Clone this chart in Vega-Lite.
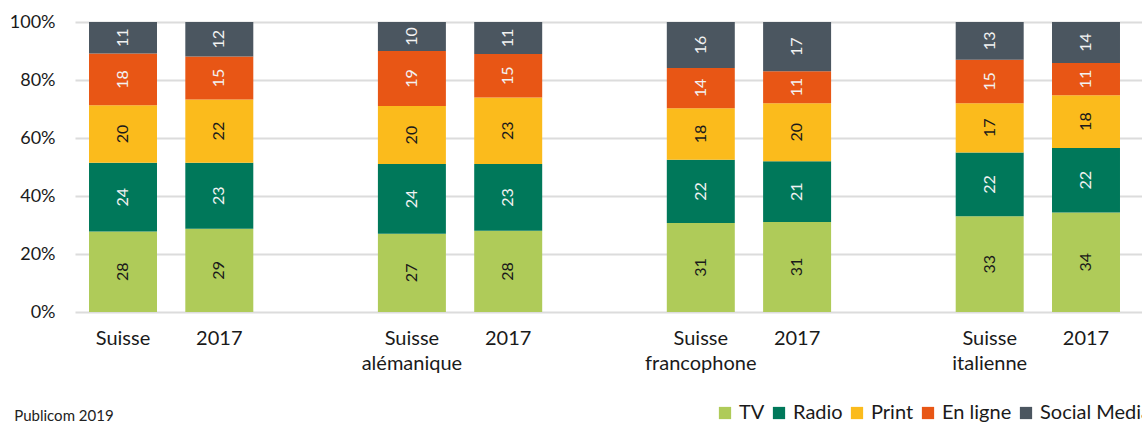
{
  "$schema": "https://vega.github.io/schema/vega-lite/v6.json",
  "width": 1067,
  "height": 290,
  "autosize": {"type": "none"},
  "padding": {"left": 75, "top": 22, "right": 0, "bottom": 110},
  "background": "white",
  "config": {
    "font": "Lato",
    "view": {"stroke": null},
    "axis": {"labelFont": "Lato", "labelColor": "#1a1a1a"}
  },
  "title": {
    "text": "Publicom 2019",
    "orient": "bottom",
    "anchor": "start",
    "frame": "bounds",
    "fontSize": 15,
    "fontWeight": "normal",
    "color": "#222222",
    "font": "Lato",
    "offset": -14,
    "dx": 5
  },
  "data": {
    "values": [
      {"region": "Suisse", "year": "2019", "media": "TV", "share": 28},
      {"region": "Suisse", "year": "2019", "media": "Radio", "share": 24},
      {"region": "Suisse", "year": "2019", "media": "Print", "share": 20},
      {"region": "Suisse", "year": "2019", "media": "En ligne", "share": 18},
      {"region": "Suisse", "year": "2019", "media": "Social Media", "share": 11},
      {"region": "Suisse", "year": "2017", "media": "TV", "share": 29},
      {"region": "Suisse", "year": "2017", "media": "Radio", "share": 23},
      {"region": "Suisse", "year": "2017", "media": "Print", "share": 22},
      {"region": "Suisse", "year": "2017", "media": "En ligne", "share": 15},
      {"region": "Suisse", "year": "2017", "media": "Social Media", "share": 12},
      {"region": "Suisse alémanique", "year": "2019", "media": "TV", "share": 27},
      {"region": "Suisse alémanique", "year": "2019", "media": "Radio", "share": 24},
      {"region": "Suisse alémanique", "year": "2019", "media": "Print", "share": 20},
      {"region": "Suisse alémanique", "year": "2019", "media": "En ligne", "share": 19},
      {"region": "Suisse alémanique", "year": "2019", "media": "Social Media", "share": 10},
      {"region": "Suisse alémanique", "year": "2017", "media": "TV", "share": 28},
      {"region": "Suisse alémanique", "year": "2017", "media": "Radio", "share": 23},
      {"region": "Suisse alémanique", "year": "2017", "media": "Print", "share": 23},
      {"region": "Suisse alémanique", "year": "2017", "media": "En ligne", "share": 15},
      {"region": "Suisse alémanique", "year": "2017", "media": "Social Media", "share": 11},
      {"region": "Suisse francophone", "year": "2019", "media": "TV", "share": 31},
      {"region": "Suisse francophone", "year": "2019", "media": "Radio", "share": 22},
      {"region": "Suisse francophone", "year": "2019", "media": "Print", "share": 18},
      {"region": "Suisse francophone", "year": "2019", "media": "En ligne", "share": 14},
      {"region": "Suisse francophone", "year": "2019", "media": "Social Media", "share": 16},
      {"region": "Suisse francophone", "year": "2017", "media": "TV", "share": 31},
      {"region": "Suisse francophone", "year": "2017", "media": "Radio", "share": 21},
      {"region": "Suisse francophone", "year": "2017", "media": "Print", "share": 20},
      {"region": "Suisse francophone", "year": "2017", "media": "En ligne", "share": 11},
      {"region": "Suisse francophone", "year": "2017", "media": "Social Media", "share": 17},
      {"region": "Suisse italienne", "year": "2019", "media": "TV", "share": 33},
      {"region": "Suisse italienne", "year": "2019", "media": "Radio", "share": 22},
      {"region": "Suisse italienne", "year": "2019", "media": "Print", "share": 17},
      {"region": "Suisse italienne", "year": "2019", "media": "En ligne", "share": 15},
      {"region": "Suisse italienne", "year": "2019", "media": "Social Media", "share": 13},
      {"region": "Suisse italienne", "year": "2017", "media": "TV", "share": 34},
      {"region": "Suisse italienne", "year": "2017", "media": "Radio", "share": 22},
      {"region": "Suisse italienne", "year": "2017", "media": "Print", "share": 18},
      {"region": "Suisse italienne", "year": "2017", "media": "En ligne", "share": 11},
      {"region": "Suisse italienne", "year": "2017", "media": "Social Media", "share": 14}
    ]
  },
  "transform": [
    {"calculate": "indexof(['TV','Radio','Print','En ligne','Social Media'], datum.media)", "as": "ord"},
    {"calculate": "datum.region + '|' + datum.year", "as": "bar"},
    {"stack": "share", "groupby": ["bar"], "sort": [{"field": "ord", "order": "ascending"}], "offset": "normalize", "as": ["y0", "y1"]},
    {"calculate": "(datum.y0 + datum.y1) / 2", "as": "ymid"}
  ],
  "encoding": {
    "x": {
      "field": "bar",
      "type": "nominal",
      "title": null,
      "scale": {
        "domain": ["Suisse|2019", "Suisse|2017", "gap1", "Suisse alémanique|2019", "Suisse alémanique|2017", "gap2", "Suisse francophone|2019", "Suisse francophone|2017", "gap3", "Suisse italienne|2019", "Suisse italienne|2017"],
        "paddingInner": 0.294,
        "paddingOuter": 0.187,
        "align": 0.389
      },
      "axis": {
        "labelExpr": "indexof(datum.value, '|') < 0 ? '' : (split(datum.value, '|')[1] == '2017' ? '2017' : split(split(datum.value, '|')[0], ' '))",
        "labelAngle": 0,
        "labelFontSize": 20,
        "labelPadding": 16,
        "labelLineHeight": 25,
        "labelOverlap": false,
        "ticks": false,
        "domain": false,
        "grid": false
      }
    }
  },
  "layer": [
    {
      "mark": {"type": "bar"},
      "encoding": {
        "y": {
          "field": "y0",
          "type": "quantitative",
          "title": null,
          "scale": {"domain": [0, 1]},
          "axis": {
            "format": ".0%",
            "values": [0, 0.2, 0.4, 0.6, 0.8, 1],
            "labelFontSize": 18,
            "labelPadding": 20,
            "labelOverlap": false,
            "ticks": false,
            "domain": false,
            "grid": true,
            "gridColor": "#dcdcdc",
            "gridWidth": 2
          }
        },
        "y2": {"field": "y1"},
        "color": {
          "field": "media",
          "type": "nominal",
          "sort": ["TV", "Radio", "Print", "En ligne", "Social Media"],
          "scale": {
            "domain": ["TV", "Radio", "Print", "En ligne", "Social Media"],
            "range": ["#afcb59", "#00785a", "#fbbb1c", "#e85615", "#4b5660"]
          },
          "legend": {
            "title": null,
            "orient": "none",
            "direction": "horizontal",
            "legendX": 640,
            "legendY": 381,
            "symbolType": "square",
            "symbolSize": 150,
            "symbolStrokeWidth": 0,
            "symbolOpacity": 1,
            "labelFontSize": 20,
            "labelFont": "Lato",
            "labelColor": "#1a1a1a",
            "labelOffset": 4,
            "columnPadding": 4,
            "padding": 0
          }
        }
      }
    },
    {
      "mark": {"type": "text", "angle": 270, "fontSize": 16, "font": "Lato", "baseline": "middle", "align": "center"},
      "encoding": {
        "y": {"field": "ymid", "type": "quantitative"},
        "text": {"field": "share", "type": "quantitative"},
        "color": {
          "condition": {"test": "datum.media === 'TV' || datum.media === 'Print'", "value": "#1a1a1a"},
          "value": "#f2f2f2"
        }
      }
    }
  ]
}
